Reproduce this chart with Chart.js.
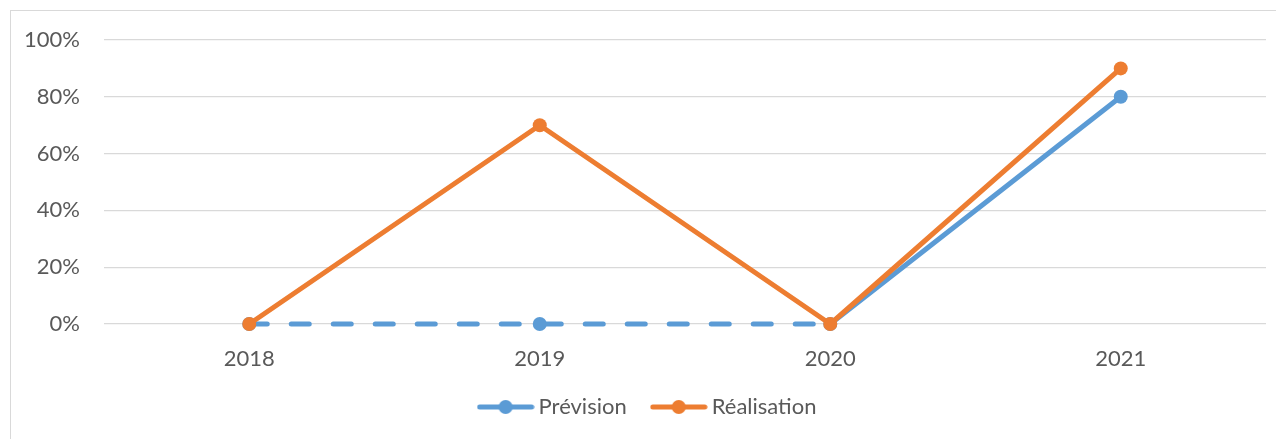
<!DOCTYPE html>
<html>
<head>
<meta charset="utf-8">
<script src="https://cdn.jsdelivr.net/npm/chart.js@4/dist/chart.umd.min.js"></script>
<style>
  html, body { margin: 0; padding: 0; background: #fff; overflow: hidden; }
  #cadre { position: absolute; left: 10px; top: 10px; width: 1300px; height: 460px; border: 1px solid #d9d9d9; box-sizing: border-box; }
  #zone { position: absolute; left: 0; top: 0; width: 1276px; height: 439px; }
</style>
</head>
<body>
<div id="cadre"></div>
<div id="zone"><canvas id="tauxChart"></canvas></div>
<script>
// Années et taux (en %)
const annees = ['2018', '2019', '2020', '2021'];
const prevision = [0, 0, 0, 80];
const realisation = [0, 70, 0, 90];
const graduations = [0, 20, 40, 60, 80, 100];

const BLEU = '#5b9bd5';
const ORANGE = '#ed7d31';
const GRIS_TEXTE = '#595959';
const GRIS_GRILLE = '#d9d9d9';
const POLICE = { family: 'Lato', size: 22 };

// Petit symbole de légende : trait + pastille
function symboleLegende(couleur) {
    const c = document.createElement('canvas');
    c.width = 58;
    c.height = 16;
    const g = c.getContext('2d');
    g.strokeStyle = couleur;
    g.lineWidth = 5;
    g.lineCap = 'round';
    g.beginPath();
    g.moveTo(3, 8);
    g.lineTo(55, 8);
    g.stroke();
    g.fillStyle = couleur;
    g.beginPath();
    g.arc(29, 8, 7, 0, Math.PI * 2);
    g.fill();
    return c;
}

const symboles = [symboleLegende(BLEU), symboleLegende(ORANGE)];

// la légende est centrée sur le cadre, un peu à droite du canvas
const decalageLegende = {
    id: 'decalageLegende',
    afterLayout(chart) {
        chart.legend.left += 17;
        chart.legend.right += 17;
    }
};

const ctx = document.getElementById('tauxChart').getContext('2d');
new Chart(ctx, {
    type: 'line',
    data: {
        labels: annees,
        datasets: [
            {
                label: 'Prévision',
                data: prevision,
                borderColor: BLEU,
                backgroundColor: BLEU,
                borderWidth: 5,
                borderCapStyle: 'round',
                borderJoinStyle: 'round',
                pointRadius: 7,
                pointBorderWidth: 0,
                pointHoverRadius: 7,
                clip: false,
                order: 1,
                // pointillés jusqu'en 2020, trait plein ensuite
                segment: {
                    borderDash: c => (c.p1DataIndex <= 2 ? [18, 24] : [])
                }
            },
            {
                label: 'Réalisation',
                data: realisation,
                borderColor: ORANGE,
                backgroundColor: ORANGE,
                borderWidth: 5,
                borderCapStyle: 'round',
                borderJoinStyle: 'round',
                pointRadius: 7,
                pointBorderWidth: 0,
                pointHoverRadius: 7,
                clip: false,
                order: 0
            }
        ]
    },
    options: {
        responsive: true,
        maintainAspectRatio: false,
        animation: false,
        layout: { padding: { top: 40, right: 10, left: 0, bottom: 11 } },
        plugins: {
            tooltip: { enabled: false },
            legend: {
                position: 'bottom',
                labels: {
                    usePointStyle: true,
                    pointStyleWidth: 44,
                    padding: 30,
                    color: GRIS_TEXTE,
                    font: POLICE,
                    sort: (a, b) => a.datasetIndex - b.datasetIndex,
                    generateLabels: chart => {
                        const items = Chart.defaults.plugins.legend.labels.generateLabels(chart);
                        items.forEach(it => { it.pointStyle = symboles[it.datasetIndex]; });
                        return items;
                    }
                }
            }
        },
        scales: {
            x: {
                offset: true,
                grid: { display: false },
                border: { display: false },
                ticks: {
                    color: GRIS_TEXTE,
                    font: POLICE,
                    padding: 14
                },
                afterFit: s => { s.height = 42; }
            },
            y: {
                min: 0,
                max: 100,
                afterBuildTicks: s => { s.ticks = graduations.map(v => ({ value: v })); },
                grid: { color: GRIS_GRILLE, lineWidth: 1.3, drawTicks: false },
                border: { display: false },
                ticks: {
                    color: GRIS_TEXTE,
                    font: POLICE,
                    padding: 24,
                    callback: v => v + '%'
                },
                afterFit: s => { s.width = 104; }
            }
        }
    },
    plugins: [decalageLegende]
});
</script>
</body>
</html>
